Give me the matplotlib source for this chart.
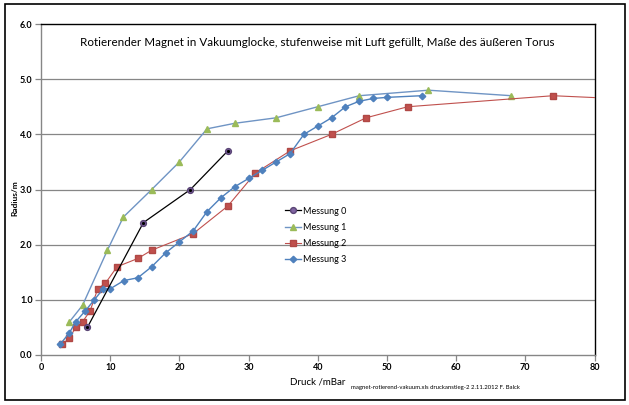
import matplotlib
matplotlib.use("Agg")
import matplotlib.pyplot as plt
from matplotlib.patches import Rectangle

plt.rcParams['font.family'] = ['Lato', 'DejaVu Sans']

# Messwerte: Druck in mBar, Radius in m
druck_0 = [6.7, 14.8, 21.6, 27.0]
radius_0 = [0.5, 2.4, 3.0, 3.7]

druck_1 = [4.1, 6.0, 9.6, 11.9, 16.0, 20.0, 24.0, 28.0, 34.0, 40.0, 46.0, 56.0, 68.0]
radius_1 = [0.6, 0.9, 1.9, 2.5, 3.0, 3.5, 4.1, 4.2, 4.3, 4.5, 4.7, 4.8, 4.7]

druck_2 = [3.1, 4.1, 5.0, 6.0, 7.1, 8.2, 9.3, 11.0, 14.0, 16.0, 22.0, 27.0, 31.0, 36.0, 42.0, 47.0, 53.0, 74.0, 90.0]
radius_2 = [0.2, 0.3, 0.5, 0.6, 0.8, 1.2, 1.3, 1.6, 1.75, 1.9, 2.2, 2.7, 3.3, 3.7, 4.0, 4.3, 4.5, 4.7, 4.61]

druck_3 = [2.8, 4.1, 5.0, 6.4, 7.7, 9.0, 10.0, 12.0, 14.0, 16.0, 18.0, 20.0, 22.0, 24.0, 26.0, 28.0,
           30.0, 32.0, 34.0, 36.0, 38.0, 40.0, 42.0, 44.0, 46.0, 48.0, 50.0, 55.0]
radius_3 = [0.2, 0.4, 0.6, 0.8, 1.0, 1.2, 1.2, 1.35, 1.4, 1.6, 1.85, 2.05, 2.25, 2.6, 2.85, 3.05,
            3.2, 3.35, 3.5, 3.65, 4.0, 4.15, 4.3, 4.5, 4.6, 4.65, 4.67, 4.7]

x_ticks = [0, 10, 20, 30, 40, 50, 60, 70, 80]
y_ticks = [0.0, 1.0, 2.0, 3.0, 4.0, 5.0, 6.0]

W, H = 629, 405
fig = plt.figure(figsize=(W / 100, H / 100), dpi=100)
fig.patches.append(Rectangle((5 / W, 1 - 400 / H), 620 / W, 396 / H, transform=fig.transFigure,
                             fill=False, edgecolor='black', linewidth=1.2))

ax = fig.add_axes([41 / W, 1 - 355 / H, (594.5 - 41) / W, (355 - 24) / H])
grau = '#868686'
for yv in y_ticks[1:-1]:
    ax.axhline(yv, color=grau, linewidth=0.9, zorder=0)

ax.plot(druck_1, radius_1, color='#6f94c4', linewidth=1.0, marker='^', markersize=4.2,
        markerfacecolor='#9bbb59', markeredgecolor='#9bbb59', label='Messung 1', zorder=2)
ax.plot(druck_2, radius_2, color='#c0504d', linewidth=0.8, marker='s', markersize=3.7,
        markerfacecolor='#c0504d', markeredgecolor='#b04845', label='Messung 2', zorder=3)
ax.plot(druck_3, radius_3, color='#4f81bd', linewidth=1.0, marker='D', markersize=3.3,
        markerfacecolor='#4f81bd', markeredgecolor='#4f81bd', label='Messung 3', zorder=4)
ax.plot(druck_0, radius_0, color='black', linewidth=0.9, marker='o', markersize=4.2,
        markerfacecolor='#8064a2', markeredgecolor='#5a4575', label='Messung 0', zorder=5)
ax.plot(druck_0, radius_0, linestyle='none', marker='o', markersize=1.3,
        color='black', zorder=6)

ax.set_xlim(0, 80)
ax.set_ylim(0, 6)
ax.set_xticks(x_ticks)
ax.set_yticks(y_ticks)
ax.set_xticklabels([str(v) for v in x_ticks])
ax.set_yticklabels(['%.1f' % v for v in y_ticks])
ax.tick_params(axis='both', direction='out', length=4, width=0.9, color=grau,
               labelsize=6.5, pad=2)
for lab in ax.get_xticklabels() + ax.get_yticklabels():
    lab.set_fontweight('bold')

ax.spines['left'].set_color(grau)
ax.spines['bottom'].set_color(grau)
ax.spines['top'].set_color('black')
ax.spines['right'].set_color('black')
for s in ax.spines.values():
    s.set_linewidth(1.0)

fig.text(317 / W, 1 - 43 / H,
         'Rotierender Magnet in Vakuumglocke, stufenweise mit Luft gefüllt, Maße des äußeren Torus',
         ha='center', va='center', fontsize=8.4)
fig.text(318 / W, 1 - 382 / H, 'Druck /mBar', ha='center', va='center', fontsize=7)
fig.text(15 / W, 1 - 198 / H, 'Radius/m', ha='center', va='center', rotation=90,
         fontsize=6, fontweight='bold')
fig.text(351 / W, 1 - 387 / H, 'magnet-rotierend-vakuum.xls druckanstieg-2 2.11.2012 F. Balck',
         ha='left', va='center', fontsize=4.3)

handles, labels = ax.get_legend_handles_labels()
order = [3, 0, 1, 2]
ax.legend([handles[i] for i in order], [labels[i] for i in order],
          loc='upper left', bbox_to_anchor=((281 - 41) / 553.5, (355 - 203) / 331),
          frameon=False, fontsize=6.5, handlelength=1.8, handletextpad=0.2,
          labelspacing=0.8, borderaxespad=0)

fig.savefig('out.png', dpi=100)
